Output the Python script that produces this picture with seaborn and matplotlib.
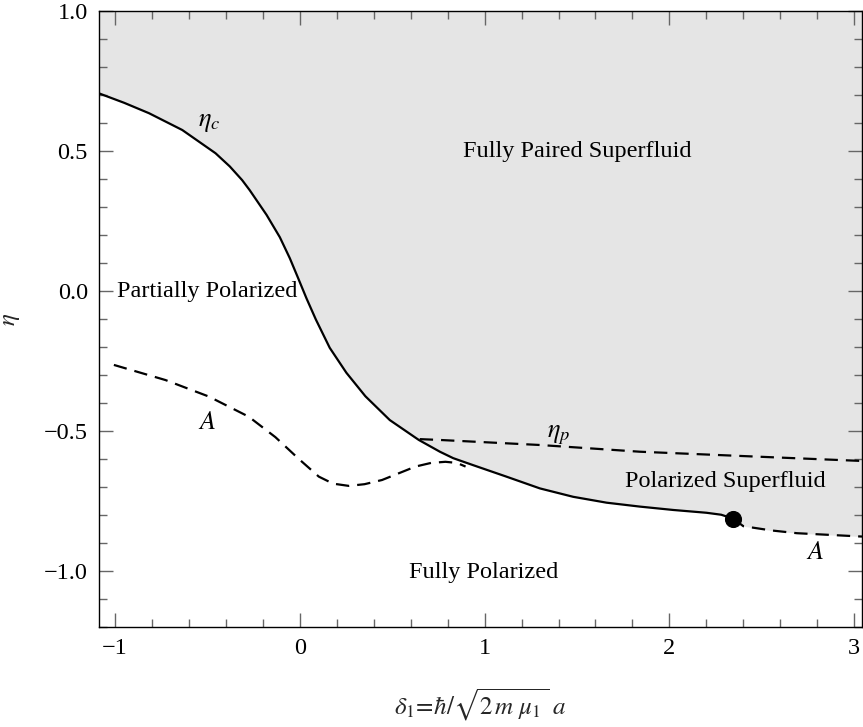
import numpy as np
import pandas as pd
import matplotlib
matplotlib.use("Agg")
import matplotlib.pyplot as plt
from matplotlib.ticker import MultipleLocator
import seaborn as sns

# ---------------- data ----------------
eta_c_x = [-1.087, -0.95, -0.816, -0.636, -0.456, -0.379, -0.312, -0.271, -0.18, -0.108,
           -0.054, -0.009, 0.036, 0.087, 0.162, 0.252, 0.355, 0.487, 0.644, 0.758, 0.83,
           0.938, 1.118, 1.299, 1.479, 1.66, 1.84, 2.02, 2.20, 2.28, 2.345]
eta_c_y = [0.706, 0.672, 0.635, 0.575, 0.492, 0.445, 0.396, 0.360, 0.272, 0.192,
           0.117, 0.046, -0.026, -0.102, -0.203, -0.292, -0.376, -0.461, -0.532, -0.574, -0.597,
           -0.622, -0.663, -0.705, -0.735, -0.756, -0.770, -0.782, -0.792, -0.799, -0.813]

A_left_x = [-1.006, -0.727, -0.492, -0.276, -0.132, -0.005, 0.103, 0.18, 0.265, 0.35,
            0.445, 0.626, 0.71, 0.788, 0.85, 0.897]
A_left_y = [-0.264, -0.318, -0.377, -0.449, -0.522, -0.600, -0.663, -0.688, -0.696, -0.690,
            -0.675, -0.627, -0.614, -0.610, -0.614, -0.627]

eta_p_x = [0.649, 0.758, 1.30, 1.84, 2.38, 3.042]
eta_p_y = [-0.529, -0.532, -0.550, -0.574, -0.589, -0.607]

A_right_x = [2.345, 2.40, 2.55, 2.69, 3.042]
A_right_y = [-0.813, -0.840, -0.855, -0.865, -0.877]

dot_x = [2.345]
dot_y = [-0.813]

x_ticks = [-1, 0, 1, 2, 3]
y_ticks = [-1.0, -0.5, 0.0, 0.5, 1.0]

region_labels = ["Fully Paired Superfluid", "Partially Polarized", "Polarized Superfluid", "Fully Polarized"]
region_pos = [(1.50, 0.50), (-0.50, 0.0), (2.30, -0.68), (0.995, -1.005)]
curve_labels = [r"$\eta_c$", r"$\eta_p$", r"$A$", r"$A$"]
curve_pos = [(-0.49, 0.60), (1.40, -0.515), (-0.50, -0.47), (2.79, -0.935)]

# ---------------- style ----------------
sns.set_theme(style="ticks")
plt.rcParams["font.family"] = ["Liberation Serif", "DejaVu Serif"]
plt.rcParams["mathtext.fontset"] = "stix"

fig = plt.figure(figsize=(8.63, 7.27), dpi=100)
ax = fig.add_axes([99 / 863, 1 - 627 / 727, (862 - 99) / 863, (627 - 11) / 727])

fill_x = np.array(eta_c_x + A_right_x[1:])
fill_y = np.array(eta_c_y + A_right_y[1:])
ax.fill_between(fill_x, fill_y, 1.0, color="#e5e5e5", linewidth=0, zorder=0)

dash = (0, (6, 3.6))
df_c = pd.DataFrame({"x": eta_c_x, "y": eta_c_y})
sns.lineplot(data=df_c, x="x", y="y", sort=False, estimator=None, color="black", lw=1.6, ax=ax)
for xs, ys in [(A_left_x, A_left_y), (eta_p_x, eta_p_y), (A_right_x, A_right_y)]:
    d = pd.DataFrame({"x": xs, "y": ys})
    sns.lineplot(data=d, x="x", y="y", sort=False, estimator=None, color="black",
                 lw=1.6, linestyle=dash, ax=ax)
sns.scatterplot(x=dot_x, y=dot_y, s=130, color="black", edgecolor="black", zorder=5, ax=ax)

for t, (x, y) in zip(region_labels, region_pos):
    ax.text(x, y, t, ha="center", va="center", fontsize=17.5, color="black")
for t, (x, y) in zip(curve_labels, curve_pos):
    ax.text(x, y, t, ha="center", va="center", fontsize=19, color="black")

ax.set_xlim(-1.0865, 3.042)
ax.set_ylim(-1.2, 1.0)
ax.set_xticks(x_ticks)
ax.set_yticks(y_ticks)
ax.set_xticklabels([str(v).replace("-", "\u2212") for v in x_ticks])
ax.set_yticklabels([f"{v:.1f}".replace("-", "\u2212") for v in y_ticks])
ax.xaxis.set_minor_locator(MultipleLocator(0.2))
ax.yaxis.set_minor_locator(MultipleLocator(0.1))
ax.tick_params(which="both", direction="in", top=True, right=True, color="#666666",
               labelsize=17.5, labelcolor="black", pad=8)
ax.tick_params(which="major", length=10, width=1.0)
ax.tick_params(which="minor", length=6, width=1.0)
for s in ax.spines.values():
    s.set_linewidth(1.0)
    s.set_color("black")

ax.set_xlabel(r"$\delta_1\!=\!\hbar/\sqrt{2\,m\;\mu_1\,}\;a$", fontsize=18, labelpad=20)
ax.set_ylabel(r"$\eta$", fontsize=18, labelpad=16)

fig.savefig("out.png", dpi=100)
